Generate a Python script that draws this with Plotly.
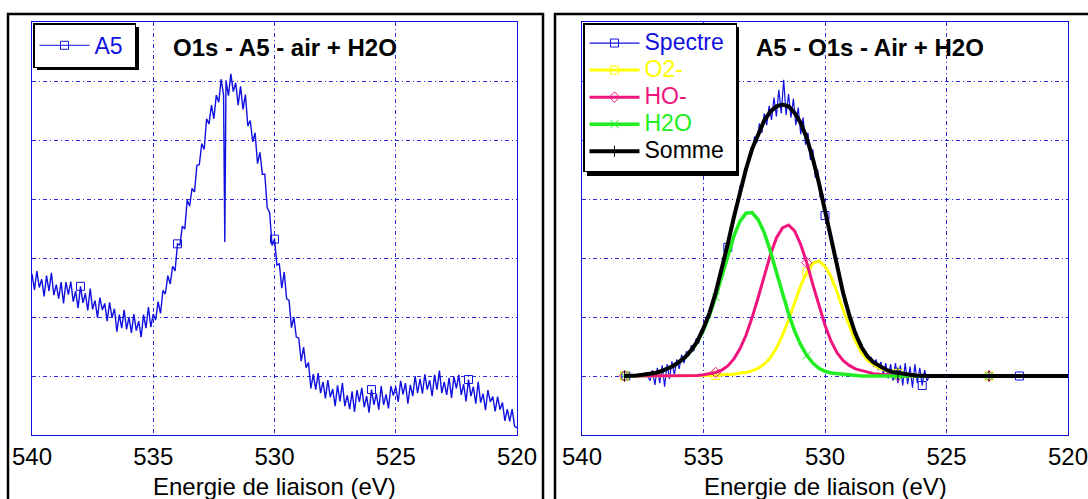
import plotly.graph_objects as go

W, H = 1088, 499

# ---------------- data ----------------
# Left panel: A5 spectrum, O1s region, sampled every 0.1 eV from 540 eV down to 520 eV
A5_E_START, A5_E_STEP = 540.0, -0.1
A5_LEFT = [
    2.73, 2.46, 2.78, 2.50, 2.64, 2.35, 2.70, 2.44, 2.75, 2.37,
    2.55, 2.31, 2.59, 2.23, 2.59, 2.38, 2.60, 2.26, 2.44, 2.15,
    2.52, 2.24, 2.40, 2.11, 2.48, 2.13, 2.28, 1.99, 2.33, 2.12,
    2.23, 1.93, 2.25, 1.99, 2.14, 1.75, 2.04, 1.81, 2.12, 1.79,
    2.00, 1.73, 2.05, 1.77, 1.93, 1.66, 2.04, 1.81, 2.17, 1.83,
    2.05, 1.95, 2.26, 2.06, 2.45, 2.39, 2.70, 2.56, 2.86, 2.78,
    3.24, 3.22, 3.54, 3.49, 3.98, 3.88, 4.18, 4.12, 4.57, 4.58,
    4.94, 4.84, 5.36, 5.27, 5.59, 5.36, 5.76, 5.64, 6.03, 5.76,
    6.01, 5.75, 6.12, 5.82, 5.97, 5.59, 5.91, 5.52, 5.77, 5.24,
    5.33, 4.97, 5.12, 4.60, 4.79, 4.42, 4.42, 3.85, 3.77, 3.21,
    3.32, 2.88, 2.90, 2.49, 2.76, 2.31, 2.28, 1.82, 2.00, 1.66,
    1.64, 1.25, 1.49, 1.14, 1.23, 0.79, 1.03, 0.77, 1.05, 0.71,
    0.90, 0.62, 0.93, 0.64, 0.78, 0.49, 0.84, 0.57, 0.88, 0.49,
    0.67, 0.44, 0.74, 0.39, 0.76, 0.56, 0.80, 0.47, 0.66, 0.38,
    0.77, 0.51, 0.70, 0.43, 0.83, 0.51, 0.69, 0.45, 0.83, 0.67,
    0.82, 0.56, 0.92, 0.69, 0.88, 0.53, 0.85, 0.66, 1.00, 0.71,
    0.95, 0.70, 1.03, 0.77, 0.93, 0.66, 1.02, 0.77, 1.09, 0.71,
    0.90, 0.68, 0.97, 0.63, 0.99, 0.79, 1.02, 0.68, 0.86, 0.57,
    0.94, 0.66, 0.82, 0.53, 0.90, 0.55, 0.70, 0.42, 0.76, 0.56,
    0.65, 0.40, 0.65, 0.43, 0.55, 0.24, 0.44, 0.23, 0.44, 0.15,
    0.12,
]
A5_SPIKE_E, A5_SPIKE_V = 532.05, 3.27

# Right panel: measured spectrum, every 0.1 eV from 538.2 eV down to 522.0 eV
SPECTRE_E_START, SPECTRE_E_STEP = 538.2, -0.1
SPECTRE = [
    1.00, 1.00, 1.00, 1.00, 1.00, 1.00, 1.00, 1.00, 1.00, 1.00,
    0.92, 1.10, 0.85, 1.14, 0.88, 1.18, 0.82, 1.20, 0.95, 1.25,
    1.02, 1.28, 1.12, 1.36, 1.22, 1.42, 1.34, 1.52, 1.42, 1.64,
    1.55, 1.78, 1.72, 2.00, 1.96, 2.20, 2.18, 2.48, 2.50, 2.80,
    2.82, 3.12, 3.18, 3.48, 3.52, 3.86, 3.90, 4.22, 4.20, 4.52,
    4.50, 4.80, 4.76, 5.06, 4.96, 5.28, 5.12, 5.45, 5.25, 5.58,
    5.34, 5.72, 5.40, 5.85, 5.45, 6.02, 5.42, 5.78, 5.38, 5.70,
    5.25, 5.55, 5.10, 5.38, 4.92, 5.12, 4.66, 4.84, 4.36, 4.50,
    4.02, 4.10, 3.72, 3.70, 3.34, 3.30, 2.96, 2.92, 2.60, 2.54,
    2.24, 2.22, 1.96, 1.96, 1.72, 1.74, 1.52, 1.56, 1.36, 1.40,
    1.24, 1.32, 1.16, 1.28, 1.10, 1.24, 1.02, 1.22, 0.96, 1.20,
    0.92, 1.22, 0.88, 1.18, 0.84, 1.22, 0.86, 1.16, 0.80, 1.20,
    0.88, 1.14, 0.84, 1.10, 0.92,
    1.00, 1.00, 1.00, 1.00, 1.00, 1.00, 1.00, 1.00, 1.00, 1.00,
    1.00, 1.00, 1.00, 1.00, 1.00, 1.00, 1.00, 1.00, 1.00, 1.00,
    1.00, 1.00, 1.00, 1.00, 1.00, 1.00, 1.00, 1.00, 1.00, 1.00,
    1.00, 1.00, 1.00, 1.00, 1.00, 1.00, 1.00, 1.00,
]

# Fitted components, every 0.25 eV from 538.25 eV down to 522.0 eV (Somme to 520.0 eV)
COMP_E_START, COMP_E_STEP = 538.25, -0.25
O2M = [
    1.00, 1.00, 1.00, 1.00, 1.00, 1.00, 1.00, 1.00, 1.00, 1.00, 1.00, 1.00, 1.00,
    1.00, 1.01, 1.01, 1.02, 1.02, 1.03, 1.05, 1.06, 1.09, 1.13, 1.20, 1.31, 1.47,
    1.69, 1.95, 2.24, 2.53, 2.76, 2.91, 2.95, 2.86, 2.68, 2.42, 2.12, 1.84, 1.59,
    1.40, 1.27, 1.19, 1.13, 1.09, 1.06, 1.04, 1.03, 1.02, 1.01, 1.00,
    1.00, 1.00, 1.00, 1.00, 1.00, 1.00, 1.00, 1.00, 1.00, 1.00, 1.00, 1.00, 1.00,
    1.00, 1.00, 1.00,
]
HOM = [
    1.00, 1.00, 1.00, 1.00, 1.00, 1.00, 1.00, 1.00, 1.00, 1.00,
    1.00, 1.00, 1.01, 1.02, 1.04, 1.06, 1.10, 1.17, 1.29, 1.46, 1.69, 1.99,
    2.33, 2.70, 3.05, 3.34, 3.51, 3.56, 3.46, 3.23, 2.92, 2.55, 2.19, 1.86,
    1.59, 1.39, 1.26, 1.18, 1.12, 1.09, 1.06, 1.04, 1.03, 1.02, 1.01, 1.00,
    1.00, 1.00, 1.00, 1.00, 1.00, 1.00, 1.00, 1.00, 1.00, 1.00, 1.00, 1.00,
    1.00, 1.00, 1.00, 1.00, 1.00, 1.00, 1.00, 1.00,
]
H2O = [
    1.00, 1.00, 1.01, 1.02, 1.03, 1.05, 1.08, 1.12, 1.17, 1.24, 1.32, 1.43,
    1.58, 1.78, 2.03, 2.34, 2.69, 3.05, 3.37, 3.62, 3.76, 3.77, 3.65, 3.43,
    3.12, 2.76, 2.40, 2.06, 1.76, 1.53, 1.35, 1.22, 1.13, 1.08, 1.05, 1.04,
    1.02, 1.01, 1.01,
    1.00, 1.00, 1.00, 1.00, 1.00, 1.00, 1.00, 1.00, 1.00, 1.00, 1.00, 1.00,
    1.00, 1.00, 1.00, 1.00, 1.00, 1.00, 1.00, 1.00, 1.00, 1.00, 1.00, 1.00,
    1.00, 1.00, 1.00,
]
SOMME = [
    1.00, 1.00, 1.01, 1.02, 1.03, 1.05, 1.08, 1.12, 1.17, 1.24, 1.32, 1.44,
    1.59, 1.81, 2.07, 2.41, 2.81, 3.24, 3.69, 4.13, 4.51, 4.85, 5.11, 5.33,
    5.48, 5.57, 5.60, 5.57, 5.46, 5.29, 5.03, 4.68, 4.27, 3.80, 3.32, 2.85,
    2.40, 2.03, 1.72, 1.49, 1.33, 1.23, 1.16, 1.11, 1.07, 1.05, 1.03, 1.02,
    1.01, 1.00,
    1.00, 1.00, 1.00, 1.00, 1.00, 1.00, 1.00, 1.00, 1.00, 1.00, 1.00, 1.00,
    1.00, 1.00, 1.00, 1.00, 1.00, 1.00, 1.00, 1.00, 1.00, 1.00, 1.00, 1.00,
]

X_TICKS = [540, 535, 530, 525, 520]
X_TICK_TEXT = ["540", "535", "530", "525", "520"]
LEFT_TITLE = "O1s - A5 - air + H2O"
RIGHT_TITLE = "A5 - O1s - Air + H2O"
X_LABEL = "Energie de liaison (eV)"

# marker positions (every few eV, as in the original export)
A5_MARK_E = [538.0, 534.0, 530.0, 526.0, 522.0]
SPECTRE_MARK_E = [538.2, 534.0, 530.0, 526.0, 522.0]
COMP_MARK_E = [538.25, 534.5, 530.75, 527.0, 523.25]

# ---------------- helpers ----------------
def grid(start, step, n):
    return [round(start + step * i, 3) for i in range(n)]

def px(x):
    return x / W

def py(y):
    return (H - y) / H

def pick(es, vs, marks):
    mx, my = [], []
    for e, v in zip(es, vs):
        if any(abs(e - m) < 1e-6 for m in marks):
            mx.append(e)
            my.append(v)
    return mx, my

BLUE = "#1010e0"
YEL = "#ffff00"
MAG = "#f0147f"
GRN = "#20ee20"
BLK = "#000000"
GRIDC = "rgba(20,20,225,0.9)"
FONT = "Liberation Sans, Arial, sans-serif"

# left series with the spike merged in
a5_e = grid(A5_E_START, A5_E_STEP, len(A5_LEFT)) + [A5_SPIKE_E]
a5_v = list(A5_LEFT) + [A5_SPIKE_V]
pairs = sorted(zip(a5_e, a5_v), key=lambda p: -p[0])
a5_e = [p[0] for p in pairs]
a5_v = [p[1] for p in pairs]

sp_e = grid(SPECTRE_E_START, SPECTRE_E_STEP, len(SPECTRE))
c_e = grid(COMP_E_START, COMP_E_STEP, len(O2M))
s_e = grid(COMP_E_START, COMP_E_STEP, len(SOMME))

fig = go.Figure()

# ---- left panel
fig.add_trace(go.Scatter(x=a5_e, y=a5_v, mode="lines", line=dict(color=BLUE, width=1.4),
                         xaxis="x", yaxis="y", showlegend=False, hoverinfo="skip"))
mx, my = pick(a5_e, a5_v, A5_MARK_E)
fig.add_trace(go.Scatter(x=mx, y=my, mode="markers", xaxis="x", yaxis="y", showlegend=False,
                         marker=dict(symbol="square-open", size=8, color=BLUE, line=dict(width=1))))
fig.add_trace(go.Scatter(x=[None], y=[None], mode="lines+markers", legend="legend",
                         name='<span style="font-size:23px">A5&nbsp;</span>',
                         line=dict(color=BLUE, width=1),
                         marker=dict(symbol="square-open", size=8, color=BLUE, line=dict(width=1))))

# ---- right panel
series = [
    ("Spectre", sp_e, SPECTRE, BLUE, 1.2, "square-open", SPECTRE_MARK_E),
    ("O2-", c_e, O2M, YEL, 3, "square-open", COMP_MARK_E),
    ("HO-", c_e, HOM, MAG, 3, "diamond-open", COMP_MARK_E),
    ("H2O", c_e, H2O, GRN, 3.5, "x-thin-open", COMP_MARK_E),
    ("Somme", s_e, SOMME, BLK, 4, "line-ns-open", COMP_MARK_E),
]
for name, es, vs, col, lw, sym, marks in series:
    fig.add_trace(go.Scatter(x=es, y=vs, mode="lines", line=dict(color=col, width=lw),
                             xaxis="x2", yaxis="y2", showlegend=False, hoverinfo="skip"))
    mx, my = pick(es, vs, marks)
    fig.add_trace(go.Scatter(x=mx, y=my, mode="markers", xaxis="x2", yaxis="y2", showlegend=False,
                             marker=dict(symbol=sym, size=8, color=col, line=dict(width=1, color=col))))
for name, es, vs, col, lw, sym, marks in series:
    pad = "&nbsp;" if name == "Somme" else ""
    fig.add_trace(go.Scatter(x=[None], y=[None], mode="lines+markers", legend="legend2",
                             name=f'<span style="color:{col};font-size:23px">{name}{pad}</span>',
                             line=dict(color=col, width=lw),
                             marker=dict(symbol=sym, size=8, color=col, line=dict(width=1, color=col))))

xcommon = dict(range=[540, 520], tickmode="array", tickvals=X_TICKS, ticktext=X_TICK_TEXT,
               showgrid=True, gridcolor=GRIDC, gridwidth=1, griddash="4px,3px,1px,3px",
               showline=True, linecolor=BLUE, linewidth=1, mirror=True, zeroline=False,
               ticks="", tickfont=dict(family=FONT, size=24, color="black"),
               ticklabelstandoff=0, ticklabeloverflow="allow", automargin=False,
               fixedrange=True)
ycommon = dict(range=[0, 7], dtick=1, showticklabels=False, showgrid=True, gridcolor=GRIDC,
               gridwidth=1, griddash="4px,3px,1px,3px", showline=True, linecolor=BLUE,
               linewidth=1, mirror=True, zeroline=False, ticks="", automargin=False,
               fixedrange=True)

ann_font = dict(family=FONT, size=24, color="black")
fig.update_layout(
    width=W, height=H, margin=dict(l=0, r=0, t=0, b=0, autoexpand=False),
    paper_bgcolor="white", plot_bgcolor="white",
    xaxis=dict(domain=[px(32), px(517)], anchor="y", **xcommon),
    yaxis=dict(domain=[py(435), py(22)], anchor="x", **ycommon),
    xaxis2=dict(domain=[px(582), px(1068)], anchor="y2", **xcommon),
    yaxis2=dict(domain=[py(435), py(22)], anchor="x2", **ycommon),
    legend=dict(x=px(33), y=py(23), xanchor="left", yanchor="top", bgcolor="white",
                bordercolor="black", borderwidth=1.5, itemwidth=50,
                font=dict(family=FONT, size=22, color=BLUE), tracegroupgap=0),
    legend2=dict(x=px(583), y=py(23), xanchor="left", yanchor="top", bgcolor="white",
                 bordercolor="black", borderwidth=1.5, itemwidth=50,
                 font=dict(family=FONT, size=18.5, color="black"), tracegroupgap=0),
    annotations=[
        dict(text=f"<b>{LEFT_TITLE}</b>", x=px(285), y=py(48), xref="paper", yref="paper",
             xanchor="center", yanchor="middle", showarrow=False, font=ann_font),
        dict(text=f"<b>{RIGHT_TITLE}</b>", x=px(870), y=py(48), xref="paper", yref="paper",
             xanchor="center", yanchor="middle", showarrow=False, font=ann_font),
        dict(text=X_LABEL, x=px(274), y=py(486), xref="paper", yref="paper",
             xanchor="center", yanchor="middle", showarrow=False, font=ann_font),
        dict(text=X_LABEL, x=px(825), y=py(486), xref="paper", yref="paper",
             xanchor="center", yanchor="middle", showarrow=False, font=ann_font),
    ],
    shapes=[
        # outer black frames
        dict(type="rect", xref="paper", yref="paper", x0=px(8), x1=px(543), y0=-0.1, y1=py(14),
             line=dict(color="black", width=2.5), layer="below"),
        dict(type="rect", xref="paper", yref="paper", x0=px(555), x1=1.1, y0=-0.1, y1=py(14),
             line=dict(color="black", width=2.5), layer="below"),
        # legend drop shadows
        dict(type="rect", xref="paper", yref="paper", x0=px(37), x1=px(139), y0=py(70), y1=py(27),
             fillcolor="black", line=dict(width=0), layer="above"),
        dict(type="rect", xref="paper", yref="paper", x0=px(587), x1=px(739), y0=py(176), y1=py(27),
             fillcolor="black", line=dict(width=0), layer="above"),
    ],
)

fig.write_html("out.html", config={"displayModeBar": False},
               post_script="document.body.style.margin='0px';document.body.style.overflow='hidden';")
